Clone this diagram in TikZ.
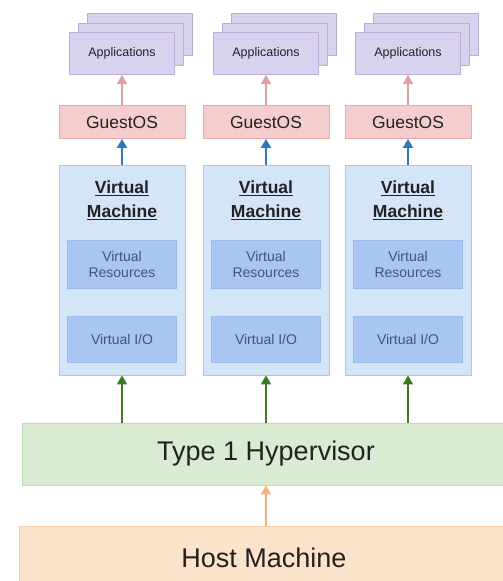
\documentclass[tikz,border=0pt]{standalone}
\usepackage{fontspec}
\setmainfont{Liberation Sans}
\usetikzlibrary{arrows.meta}
\definecolor{appfill}{HTML}{D9D2EE}
\definecolor{appdraw}{HTML}{B9AEDB}
\definecolor{osfill}{HTML}{F6CDCD}
\definecolor{osdraw}{HTML}{E9A9A9}
\definecolor{vmfill}{HTML}{D4E5F8}
\definecolor{vmdraw}{HTML}{A9C7EC}
\definecolor{infill}{HTML}{A9C5F2}
\definecolor{indraw}{HTML}{9BBBEA}
\definecolor{hypfill}{HTML}{D9EBD3}
\definecolor{hypdraw}{HTML}{BFDDB2}
\definecolor{hostfill}{HTML}{FCE3CB}
\definecolor{hostdraw}{HTML}{F6CFA6}
\definecolor{txt}{HTML}{222222}
\definecolor{intxt}{HTML}{3E5777}
\definecolor{pinkarr}{HTML}{E4A0A0}
\definecolor{bluearr}{HTML}{2F78C0}
\definecolor{greenarr}{HTML}{3E7A24}
\definecolor{orangearr}{HTML}{F3B27C}
\tikzset{
  x=1pt, y=-1pt,
  appbox/.style={draw=appdraw, fill=appfill, line width=0.8pt, minimum width=105pt, minimum height=42pt, inner sep=0pt, font=\fontsize{12.5}{14}\selectfont, text=txt},
  osbox/.style={draw=osdraw, fill=osfill, line width=0.8pt, minimum width=126pt, minimum height=33pt, inner sep=0pt, font=\fontsize{17.5}{20}\selectfont, text=txt},
  vmbox/.style={draw=vmdraw, fill=vmfill, line width=0.8pt, minimum width=126pt, minimum height=210pt, inner sep=0pt},
  vmtitle/.style={font=\bfseries\fontsize{17.5}{24}\selectfont, text=txt, align=center, inner sep=0pt},
  inbox/.style={draw=indraw, fill=infill, line width=0.5pt, minimum width=109pt, inner sep=0pt, font=\fontsize{14}{16}\selectfont, text=intxt, align=center},
  bigbox/.style={line width=0.8pt, inner sep=0pt, font=\fontsize{27}{30}\selectfont, text=txt},
  arr/.style={line width=1.8pt, -{Triangle[length=9pt,width=10pt]}},
}
\begin{document}
\begin{tikzpicture}
\useasboundingbox (0,0) rectangle (503,581);
\clip (0,0) rectangle (503,581);
\fill[white] (0,0) rectangle (503,581);
\foreach \i/\cx in {1/122,2/266,3/408}{
  \node[appbox] (appc\i) at (\cx+18,34.5) {};
  \node[appbox] (appb\i) at (\cx+9,44) {};
  \node[appbox] (app\i) at (\cx,53.5) {Applications};
  \node[osbox] (os\i) at (\cx,122) {GuestOS};
  \node[vmbox] (vm\i) at (\cx,270) {};
  \node[vmtitle] (vmt\i) at (\cx,200) {\underline{Virtual}\\\underline{Machine}};
  \node[inbox, minimum height=48pt] (res\i) at (\cx,264) {Virtual\\Resources};
  \node[inbox, minimum height=46pt] (io\i) at (\cx,339) {Virtual I/O};
}
\node[bigbox, draw=hypdraw, fill=hypfill, minimum width=500pt, minimum height=62pt] (hyp) at (272,454) {};
\node[bigbox] (hyptxt) at (266,454) {Type 1 Hypervisor};
\node[bigbox, draw=hostdraw, fill=hostfill, minimum width=500pt, minimum height=62pt] (host) at (269,557) {};
\node[bigbox] (hosttxt) at (264,558) {Host Machine};
\foreach \i in {1,2,3}{
  \draw[arr, draw=pinkarr, line width=1.4pt] (os\i.north) -- (app\i.south);
  \draw[arr, draw=bluearr] (vm\i.north) -- (os\i.south);
  \draw[arr, draw=greenarr] (vm\i.south |- hyp.north) -- (vm\i.south);
}
\draw[arr, draw=orangearr, line width=1.4pt] (hyptxt.south |- host.north) -- (hyptxt.south |- hyp.south);
\end{tikzpicture}
\end{document}
